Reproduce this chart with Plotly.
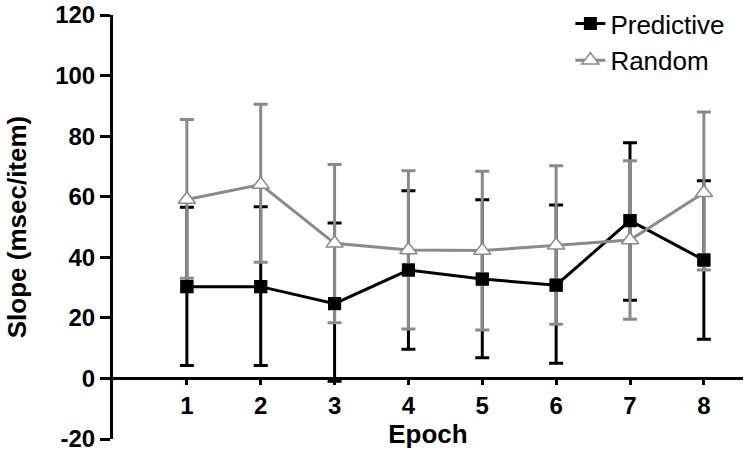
import plotly.graph_objects as go

epochs = [1, 2, 3, 4, 5, 6, 7, 8]

predictive = [30.3, 30.3, 24.7, 35.8, 32.8, 30.8, 52.1, 39.1]
predictive_hi = [56.5, 56.7, 51.3, 62.0, 59.0, 57.3, 77.8, 65.3]
predictive_lo = [4.3, 4.3, -0.9, 9.6, 6.8, 5.0, 25.8, 12.9]

random_ = [59.1, 64.0, 44.6, 42.4, 42.2, 44.0, 45.7, 61.3]
random_hi = [85.5, 90.5, 70.6, 68.6, 68.4, 70.2, 71.9, 88.0]
random_lo = [33.1, 38.4, 18.4, 16.3, 16.0, 17.9, 19.5, 35.8]

y_ticks = [-20, 0, 20, 40, 60, 80, 100, 120]
Y_MIN, Y_MAX = -20, 120

BLACK = '#000000'
GREY = '#8a8a8a'
FONT = 'Liberation Sans, Arial, sans-serif'

W, H = 750, 459
# zero top margin so the legend can sit at the very top; the y axis starts 15px lower
Y_DOM_TOP = 1 - 15 / (H - 20)


def err(vals, hi, lo, color):
    return dict(type='data', symmetric=False,
                array=[h - v for h, v in zip(hi, vals)],
                arrayminus=[v - l for v, l in zip(vals, lo)],
                color=color, thickness=3, width=7)


fig = go.Figure()
fig.add_trace(go.Scatter(x=epochs, y=predictive, name='Predictive', mode='lines+markers',
                         line=dict(color=BLACK, width=3),
                         marker=dict(symbol='square', size=13, color=BLACK),
                         error_y=err(predictive, predictive_hi, predictive_lo, BLACK)))
fig.add_trace(go.Scatter(x=epochs, y=random_, name='Random', mode='lines+markers',
                         line=dict(color=GREY, width=3),
                         marker=dict(symbol='triangle-up', size=15, color='white',
                                     line=dict(color=GREY, width=1.5)),
                         error_y=err(random_, random_hi, random_lo, GREY)))
# black squares on top of the grey bars
fig.add_trace(go.Scatter(x=epochs, y=predictive, mode='markers', showlegend=False,
                         marker=dict(symbol='square', size=13, color=BLACK),
                         hoverinfo='skip'))

fig.update_xaxes(range=[0, 8.53], tickvals=epochs, showgrid=False, zeroline=False,
                 showline=True, linecolor=BLACK, linewidth=3, automargin=False,
                 ticks='outside', ticklen=5, tickwidth=3, tickcolor=BLACK,
                 tickfont=dict(family=FONT, size=24, color=BLACK, weight='bold'),
                 anchor='free', position=Y_DOM_TOP * (0 - Y_MIN) / (Y_MAX - Y_MIN),
                 title=dict(text='Epoch', standoff=4,
                            font=dict(family=FONT, size=26, color=BLACK, weight='bold')))
fig.update_yaxes(range=[Y_MIN, Y_MAX], tickvals=y_ticks, ticktext=[str(t) for t in y_ticks],
                 domain=[0, Y_DOM_TOP],
                 showgrid=False, zeroline=False, automargin=False,
                 showline=True, linecolor=BLACK, linewidth=3,
                 ticks='outside', ticklen=10, tickwidth=3, tickcolor=BLACK,
                 tickfont=dict(family=FONT, size=24, color=BLACK, weight='bold'),
                 title=dict(text='Slope (msec/item)', standoff=22,
                            font=dict(family=FONT, size=26, color=BLACK, weight='bold')))

fig.update_layout(width=W, height=H, plot_bgcolor='white', paper_bgcolor='white',
                  margin=dict(l=113, r=7, t=0, b=20),
                  legend=dict(x=0.726, y=1.0, xanchor='left', yanchor='top',
                              bgcolor='rgba(0,0,0,0)', tracegroupgap=0,
                              font=dict(family=FONT, size=26, color=BLACK)))

# drop the browser's default 8px body margin so the figure fills the window
fig.write_html("out.html", config={'displayModeBar': False},
               post_script="document.body.style.margin = '0';")
